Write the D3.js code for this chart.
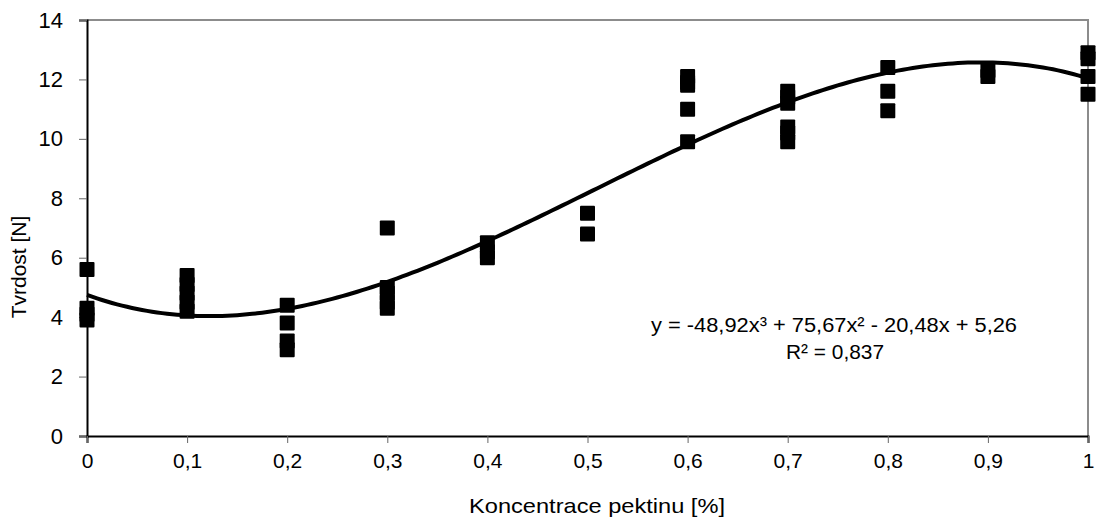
<!DOCTYPE html>
<html><head><meta charset="utf-8">
<script src="https://cdn.jsdelivr.net/npm/d3@7"></script>
<style>body{margin:0;background:#fff}svg{display:block}text{font-family:"Liberation Sans",Arial,sans-serif;fill:#000}</style>
</head><body><svg id="c" width="1097" height="525"></svg>
<script>
const concentrations = [0, 0.1, 0.2, 0.3, 0.4, 0.5, 0.6, 0.7, 0.8, 0.9, 1];
const hardness = [
  [5.6, 4.3, 4.1, 3.9],
  [5.4, 5.1, 4.8, 4.5, 4.2],
  [4.4, 3.8, 3.2, 2.9],
  [7.0, 5.0, 4.8, 4.5, 4.3],
  [6.5, 6.2, 6.0],
  [7.5, 6.8],
  [12.1, 11.9, 11.8, 11.0, 9.9],
  [11.6, 11.4, 11.2, 10.4, 10.2, 9.9],
  [12.4, 11.6, 10.95],
  [12.3, 12.1],
  [12.9, 12.7, 12.1, 11.5]
];
const xTicks = [0, 0.1, 0.2, 0.3, 0.4, 0.5, 0.6, 0.7, 0.8, 0.9, 1];
const yTicks = [0, 2, 4, 6, 8, 10, 12, 14];
const equationText = "y = -48,92x³ + 75,67x² - 20,48x + 5,26";
const r2Text = "R² = 0,837";
const xTitle = "Koncentrace pektinu [%]";
const yTitle = "Tvrdost [N]";

const points = [];
concentrations.forEach((c, i) => hardness[i].forEach(v => points.push({x: c, y: v})));

// least-squares cubic fit (trend line) from the data
function polyfit(pts, deg) {
  const n = deg + 1;
  const A = Array.from({length: n}, () => new Array(n + 1).fill(0));
  pts.forEach(p => {
    for (let r = 0; r < n; r++) {
      for (let c = 0; c < n; c++) A[r][c] += Math.pow(p.x, r + c);
      A[r][n] += p.y * Math.pow(p.x, r);
    }
  });
  for (let i = 0; i < n; i++) {
    let m = i;
    for (let k = i + 1; k < n; k++) if (Math.abs(A[k][i]) > Math.abs(A[m][i])) m = k;
    [A[i], A[m]] = [A[m], A[i]];
    for (let k = 0; k < n; k++) {
      if (k === i) continue;
      const f = A[k][i] / A[i][i];
      for (let j = i; j <= n; j++) A[k][j] -= f * A[i][j];
    }
  }
  return A.map((row, i) => row[n] / row[i]);
}
const coef = polyfit(points, 3);
const fx = x => coef.reduce((s, c, i) => s + c * Math.pow(x, i), 0);

const svg = d3.select("#c");
const L = 87, R = 1088, T = 20, B = 436;
const x = d3.scaleLinear().domain([0, 1]).range([L, R]);
const y = d3.scaleLinear().domain([0, 14]).range([B, T]);

// frame: top & right gray
svg.append("path").attr("d", `M${L},${T}H${R}V${B}`).attr("fill", "none")
  .attr("stroke", "#8c8c8c").attr("stroke-width", 2);

const fmt = d => String(d).replace(".", ",");

const yAx = svg.append("g").attr("transform", `translate(${L},0)`)
  .call(d3.axisLeft(y).tickValues(yTicks).tickFormat(fmt).tickSize(8).tickPadding(16));
yAx.select(".domain").attr("stroke", "#000").attr("stroke-width", 2);
yAx.selectAll(".tick line").attr("stroke", "#666");
yAx.selectAll(".tick text").attr("font-size", 22).attr("font-family", "Liberation Sans");

const xAx = svg.append("g").attr("transform", `translate(0,${B})`)
  .call(d3.axisBottom(x).tickValues(xTicks).tickFormat(fmt).tickSize(7).tickPadding(10));
xAx.select(".domain").attr("stroke", "#000").attr("stroke-width", 2);
xAx.selectAll(".tick line").attr("stroke", "#666");
xAx.selectAll(".tick text").attr("font-size", 21).attr("font-family", "Liberation Sans");

// points
const S = 15;
svg.append("g").selectAll("rect").data(points).join("rect")
  .attr("x", d => x(d.x) - S / 2).attr("y", d => y(d.y) - S / 2)
  .attr("width", S).attr("height", S).attr("rx", 1)
  .attr("fill", "#000");

// trend line
const xs = d3.range(0, 1.0001, 0.005);
svg.append("path").datum(xs)
  .attr("d", d3.line().x(d => x(d)).y(d => y(fx(d))))
  .attr("fill", "none").attr("stroke", "#000").attr("stroke-width", 4);

// equation
svg.append("text").attr("x", 834).attr("y", 332).attr("text-anchor", "middle")
  .attr("font-size", 20).attr("textLength", 366).attr("lengthAdjust", "spacingAndGlyphs")
  .text(equationText);
svg.append("text").attr("x", 835).attr("y", 359).attr("text-anchor", "middle")
  .attr("font-size", 20).attr("textLength", 98).attr("lengthAdjust", "spacingAndGlyphs")
  .text(r2Text);

// axis titles
svg.append("text").attr("x", 597).attr("y", 513).attr("text-anchor", "middle")
  .attr("font-size", 21).attr("textLength", 256).attr("lengthAdjust", "spacingAndGlyphs")
  .text(xTitle);
svg.append("text").attr("transform", "translate(26,267) rotate(-90)")
  .attr("text-anchor", "middle").attr("font-size", 21).text(yTitle);
</script></body></html>
